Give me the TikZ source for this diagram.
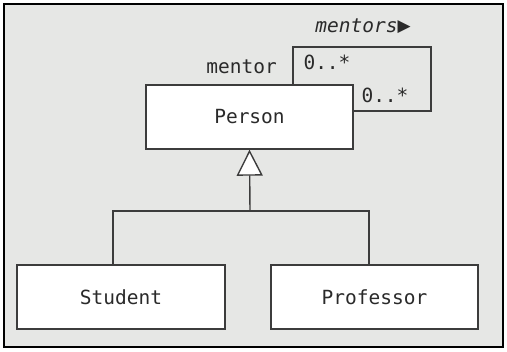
\documentclass[tikz,border=0pt]{standalone}
\usepackage{fontspec}
\setmonofont{DejaVu Sans Mono}
\newfontfamily\symfont{DejaVu Sans}
\usetikzlibrary{arrows.meta,positioning}
\definecolor{Canvas}{HTML}{E6E7E5}
\definecolor{Ink}{HTML}{2A2A2A}
\definecolor{Edge}{HTML}{3C3C3C}
\tikzset{
  classbox/.style={draw=Edge,line width=1.4pt,fill=white,minimum width=207pt,minimum height=64pt,font=\ttfamily\fontsize{19.5}{22}\selectfont,text=Ink},
  link/.style={draw=Edge,line width=1.4pt},
  role/.style={font=\ttfamily\fontsize{19.5}{22}\selectfont,text=Ink,inner sep=0pt},
  genArrow/.style={-{Triangle[open,fill=white,length=26pt,width=26pt]}}
}
\begin{document}
\begin{tikzpicture}[x=1pt,y=-1pt]
\useasboundingbox (0,0) rectangle (507,352);
\draw[fill=Canvas,draw=black,line width=1.6pt] (4,4) rectangle (503,347);
\node[classbox] (person) at (249.5,117) {Person};
\node[classbox,minimum width=208pt] (student) at (121,297) {Student};
\node[classbox] (professor) at (374.5,297) {Professor};
\coordinate (fork) at (250,211);
\coordinate (loop) at (431,47);
% generalisation
\draw[link] ([xshift=-8pt]student.north) |- (fork) -| ([xshift=-5.5pt]professor.north);
\draw[link,genArrow] (fork) -- (person.south);
% self association
\draw[link] ([xshift=43.5pt]person.north) |- (loop) |- ([yshift=6pt]person.east);
\node[role,anchor=east] (mentorlbl) at (277,67) {mentor};
\node[role] (multA) at (327,62) {0..*};
\node[role] (multB) at (385,95) {0..*};
\node[role] (assoc) at (363,26) {\textit{mentors}\raisebox{1pt}{\symfont\fontsize{17}{18}\selectfont ▶}};
\end{tikzpicture}
\end{document}
